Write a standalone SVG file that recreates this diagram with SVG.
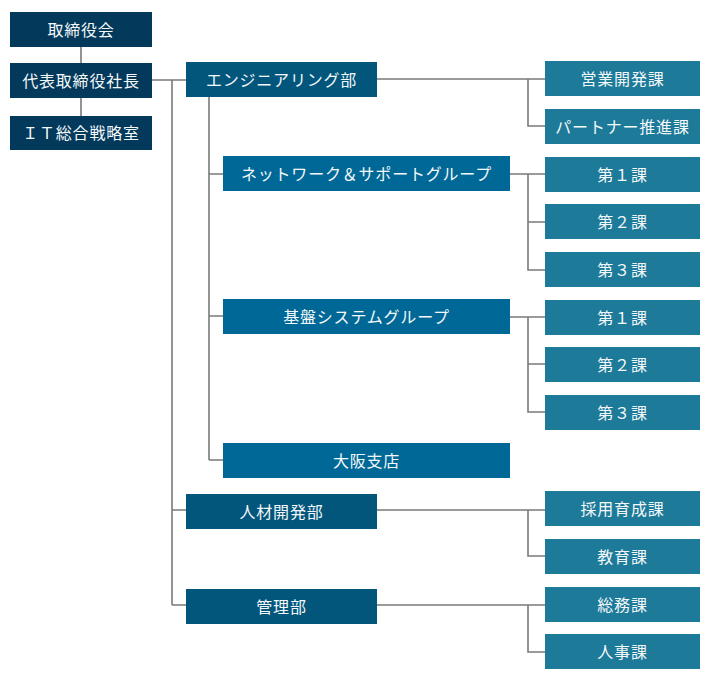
<svg xmlns="http://www.w3.org/2000/svg" width="712" height="680" viewBox="0 0 712 680">
<style>
.t{font-family:"Noto Sans CJK JP","Noto Sans",sans-serif;font-size:16px;fill:#f4f8fa;text-anchor:middle;dominant-baseline:central;letter-spacing:0.8px}
.top{fill:#03395a}
.dept{fill:#02557b}
.grp{fill:#006897}
.sec{fill:#1d7a99}
.c{stroke:#7a7a7a;stroke-width:1.6;fill:none}
</style>
<rect width="712" height="680" fill="#ffffff"/>
<g id="connectors" class="c">
<path d="M81 47V63M81 98V116"/>
<path d="M152 80H186M172 80V605M172 510H186M172 605H186"/>
<path d="M377 79H545M528 79V126H545"/>
<path d="M209 97V460M209 174H223M209 316H223M209 460H223"/>
<path d="M510 174H545M528 174V270H545M528 222H545"/>
<path d="M510 317H545M528 317V412H545M528 364H545"/>
<path d="M377 510H545M528 510V556H545"/>
<path d="M377 605H545M528 605V652H545"/>
</g>
<g id="n-board"><rect class="top" x="10" y="12" width="142" height="35"/><text class="t" x="81" y="28.5">取締役会</text></g>
<g id="n-ceo"><rect class="top" x="10" y="63" width="142" height="35"/><text class="t" x="81" y="79.5">代表取締役社長</text></g>
<g id="n-it"><rect class="top" x="10" y="116" width="142" height="34"/><text class="t" x="81" y="132">ＩＴ総合戦略室</text></g>
<g id="n-eng"><rect class="dept" x="186" y="62" width="191" height="35"/><text class="t" x="281.5" y="78.5">エンジニアリング部</text></g>
<g id="n-hr"><rect class="dept" x="186" y="494" width="191" height="35"/><text class="t" x="281.5" y="510.5">人材開発部</text></g>
<g id="n-admin"><rect class="dept" x="186" y="589" width="191" height="35"/><text class="t" x="281.5" y="605.5">管理部</text></g>
<g id="n-net"><rect class="grp" x="223" y="156" width="287" height="35"/><text class="t" x="366.5" y="172.5">ネットワーク＆サポートグループ</text></g>
<g id="n-base"><rect class="grp" x="223" y="299" width="287" height="35"/><text class="t" x="366.5" y="315.5">基盤システムグループ</text></g>
<g id="n-osaka"><rect class="grp" x="223" y="443" width="287" height="35"/><text class="t" x="366.5" y="459.5">大阪支店</text></g>
<g id="n-sales"><rect class="sec" x="545" y="61" width="155" height="35"/><text class="t" x="622.5" y="77.5">営業開発課</text></g>
<g id="n-partner"><rect class="sec" x="545" y="109" width="155" height="35"/><text class="t" x="622.5" y="125.5">パートナー推進課</text></g>
<g id="n-net1"><rect class="sec" x="545" y="157" width="155" height="35"/><text class="t" x="622.5" y="173.5">第１課</text></g>
<g id="n-net2"><rect class="sec" x="545" y="204" width="155" height="35"/><text class="t" x="622.5" y="220.5">第２課</text></g>
<g id="n-net3"><rect class="sec" x="545" y="252" width="155" height="35"/><text class="t" x="622.5" y="268.5">第３課</text></g>
<g id="n-base1"><rect class="sec" x="545" y="300" width="155" height="35"/><text class="t" x="622.5" y="316.5">第１課</text></g>
<g id="n-base2"><rect class="sec" x="545" y="347" width="155" height="35"/><text class="t" x="622.5" y="363.5">第２課</text></g>
<g id="n-base3"><rect class="sec" x="545" y="395" width="155" height="35"/><text class="t" x="622.5" y="411.5">第３課</text></g>
<g id="n-recruit"><rect class="sec" x="545" y="491" width="155" height="35"/><text class="t" x="622.5" y="507.5">採用育成課</text></g>
<g id="n-edu"><rect class="sec" x="545" y="539" width="155" height="35"/><text class="t" x="622.5" y="555.5">教育課</text></g>
<g id="n-general"><rect class="sec" x="545" y="587" width="155" height="35"/><text class="t" x="622.5" y="603.5">総務課</text></g>
<g id="n-personnel"><rect class="sec" x="545" y="634" width="155" height="35"/><text class="t" x="622.5" y="650.5">人事課</text></g>
</svg>
